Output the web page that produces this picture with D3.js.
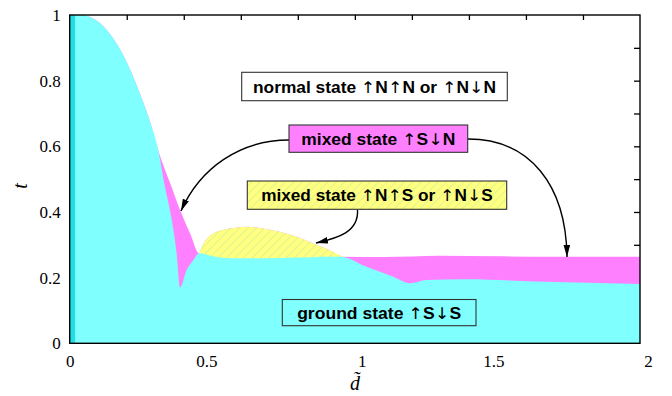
<!DOCTYPE html>
<html><head><meta charset="utf-8">
<script src="https://cdn.jsdelivr.net/npm/d3@7"></script>
<style>body{margin:0;background:#fff}svg{display:block}</style>
</head><body>
<svg id="c" width="672" height="396"></svg>
<script>
// ---- data (d, t) ----
// outer boundary: normal state above
const normalD = [0,0.04,0.07,0.107,0.15,0.2,0.25,0.28,0.311,0.352,0.387,0.422,0.454,
  0.466,0.489,0.536,0.583,0.618,0.677,0.735,0.794,0.852,0.91,0.957,1.1,1.3,1.5,1.7,2.0];
const normalT = [1,1,0.995,0.975,0.932,0.856,0.752,0.68,0.586,0.488,0.406,0.335,0.274,
  0.299,0.325,0.345,0.352,0.355,0.350,0.340,0.325,0.305,0.284,0.264,0.263,0.267,0.265,0.264,0.264];
// upper edge of the hatched mixed state ↑N↑S / ↑N↓S
const yellowD = [0.454,0.466,0.489,0.536,0.583,0.618,0.677,0.735,0.794,0.852,0.91,0.957];
const yellowT = [0.274,0.299,0.325,0.345,0.352,0.355,0.350,0.340,0.325,0.305,0.284,0.264];
// ground state boundary
const groundD = [0,0.04,0.07,0.107,0.15,0.2,0.25,0.28,0.311,0.334,0.358,0.375,0.387,0.41,0.434,0.454,
  0.51,0.58,0.68,0.79,0.91,0.95,1.041,1.135,1.193,1.252,1.39,1.63,2.0];
const groundT = [1,1,0.995,0.975,0.932,0.856,0.752,0.68,0.586,0.477,0.376,0.274,0.170,0.223,0.254,0.274,
  0.264,0.259,0.259,0.261,0.264,0.264,0.233,0.203,0.183,0.193,0.195,0.188,0.181];
// thin strip near d = 0
const stripD = [0, 0.019];
const xTicks = [0,0.5,1,1.5,2];
const yTicks = [0,0.2,0.4,0.6,0.8,1];
const xMinor = [0.2,0.4,0.6,0.8,1.0,1.2,1.4,1.6,1.8];
const yMinor = [0.1,0.2,0.3,0.4,0.5,0.6,0.7,0.8,0.9];
const labels = ["normal state ↑N↑N or ↑N↓N","mixed state ↑S↓N","mixed state ↑N↑S or ↑N↓S","ground state ↑S↓S"];

// ---- drawing ----
const svg = d3.select("#c");
const L=69.7, R=640, T=15, B=343.3;
const x = d3.scaleLinear([0,2],[L,R]);
const y = d3.scaleLinear([0,1],[B,T]);
const zip = (a,b)=>a.map((v,i)=>[v,b[i]]);

const defs = svg.append("defs");
const pat = defs.append("pattern").attr("id","hatch").attr("patternUnits","userSpaceOnUse")
  .attr("width",6).attr("height",6).attr("patternTransform","rotate(45)");
pat.append("rect").attr("width",6).attr("height",6).attr("fill","#FFFF80");
pat.append("line").attr("x1",0).attr("y1",0).attr("x2",0).attr("y2",6)
  .attr("stroke","#c8eca0").attr("stroke-width",1.2);
defs.append("marker").attr("id","ah").attr("viewBox","-12 -4 13 8").attr("refX",0).attr("refY",0)
  .attr("markerUnits","userSpaceOnUse").attr("markerWidth",13).attr("markerHeight",8).attr("orient","auto")
  .append("path").attr("d","M0,0L-12,-3.3L-12,3.3Z").attr("fill","#000");

const serif = "'Liberation Serif','Times New Roman',serif";
// axes (ticks drawn under fills)
const gTop = svg.append("g").attr("transform",`translate(0,${T})`)
  .call(d3.axisTop(x).tickValues(xMinor).tickSize(-5).tickFormat(""));
const gRight = svg.append("g").attr("transform",`translate(${R},0)`)
  .call(d3.axisRight(y).tickValues(yMinor).tickSize(-6).tickFormat(""));
const gBot = svg.append("g").attr("transform",`translate(0,${B})`)
  .call(d3.axisBottom(x).tickValues(xTicks).tickSize(0).tickPadding(11.5).tickFormat(d3.format("")));
const gLeft = svg.append("g").attr("transform",`translate(${L},0)`)
  .call(d3.axisLeft(y).tickValues(yTicks).tickSize(0).tickPadding(9).tickFormat(d3.format("")));
[gTop,gRight,gBot,gLeft].forEach(g=>{
  g.attr("font-family",null).attr("font-size",null);
  g.select(".domain").remove();
  g.selectAll("line").attr("stroke","#000").attr("stroke-width",1.3);
  g.selectAll("text").style("font-family",serif).style("font-size","17px").attr("fill","#000");
});
// the original places some bottom labels slightly off their ticks
const xLabelNudge = {0.5:-6, 1:7, 1.5:-4, 2:8};
gBot.selectAll("text").attr("dx",d=>xLabelNudge[d]||0);

const area = d3.area().x(d=>x(d[0])).y0(y(0)).y1(d=>y(d[1])).curve(d3.curveMonotoneX);
svg.append("path").datum(zip(normalD,normalT)).attr("d",area).attr("fill","#FF80FF");
svg.append("path").datum(zip(yellowD,yellowT)).attr("d",area).attr("fill","url(#hatch)");
svg.append("path").datum(zip(groundD,groundT)).attr("d",area).attr("fill","#80FFFF");
svg.append("rect").attr("x",x(stripD[0])).attr("y",y(1)).attr("width",x(stripD[1])-x(stripD[0]))
  .attr("height",y(0)-y(1)).attr("fill","#22DDE4");

// frame
svg.append("rect").attr("x",L).attr("y",T).attr("width",R-L).attr("height",B-T)
  .attr("fill","none").attr("stroke","#000").attr("stroke-width",1.4);

// axis titles
svg.append("text").attr("transform","translate(27,186) rotate(-90)").attr("text-anchor","middle")
  .style("font-family",serif).style("font-style","italic").style("font-size","20px").text("t");
svg.append("text").attr("x",355).attr("y",390).attr("text-anchor","middle")
  .style("font-family",serif).style("font-style","italic").style("font-size","20px").text("d\u0303");

// arrows
const arrows = [
  "M289,140 C240,140 200,168 181,211",
  "M468,139 C530,139 566,185 567,257",
  "M357.5,209.5 C359,232 338,238 316,243"
];
svg.selectAll("path.arr").data(arrows).join("path").attr("class","arr").attr("d",d=>d)
  .attr("fill","none").attr("stroke","#000").attr("stroke-width",1.4).attr("marker-end","url(#ah)");

// labelled boxes
const boxes = [
  {x0:241.7,x1:507.3,y0:72.3,y1:100.7,fill:"#fff",tw:243},
  {x0:289,x1:467.7,y0:125,y1:152.3,fill:"#FF80FF",tw:154},
  {x0:247.3,x1:506.7,y0:181,y1:209.3,fill:"url(#hatch)",tw:231.7},
  {x0:282.3,x1:476,y0:299.5,y1:325.7,fill:"#80FFFF",tw:164}
];
boxes.forEach((b,i)=>{
  svg.append("rect").attr("x",b.x0).attr("y",b.y0).attr("width",b.x1-b.x0).attr("height",b.y1-b.y0)
    .attr("fill",b.fill).attr("stroke","#333").attr("stroke-width",1.1);
  const t = svg.append("text").attr("x",(b.x0+b.x1)/2).attr("y",(b.y0+b.y1)/2+6).attr("text-anchor","middle")
    .style("font-family","'Liberation Sans',Arial,sans-serif").style("font-weight","bold").style("font-size","16px")
    .attr("textLength",b.tw).attr("lengthAdjust","spacingAndGlyphs");
  labels[i].split(/([↑↓])/).filter(s=>s.length).forEach(s=>{
    const ts = t.append("tspan").text(s);
    if (s==="↑"||s==="↓") ts.style("font-family","'DejaVu Sans',sans-serif").style("font-weight","normal");
  });
});
</script>
</body></html>
